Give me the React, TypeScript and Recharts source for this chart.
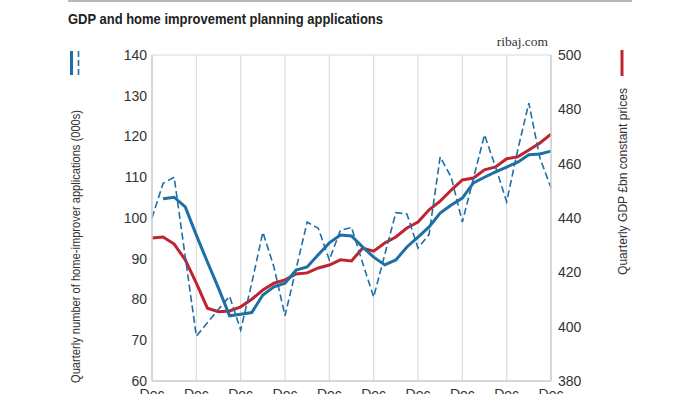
import React from 'react';
import { ComposedChart, Line, XAxis, YAxis, CartesianGrid } from 'recharts';

// quarter index, Dec of each year every 4 quarters
const quarters = Array.from({ length: 37 }, (_, i) => i);
const yearTicks = [0, 4, 8, 12, 16, 20, 24, 28, 32, 36];

// home-improver applications, quarterly (000s)
const applications = [
  100, 108.5, 110, 90.5, 71, 74.3, 77.6, 80.8, 72.5, 84, 96.5, 88, 76, 87.5, 99, 97.5, 89.7, 97, 97.7, 89,
  80.6, 91, 101.3, 101, 92.6, 96, 115, 110, 99, 109.7, 120.4, 112.5, 104, 116.7, 128.2, 114.7, 107.4,
];

// rolling average of applications (000s)
const applicationsAvg = [
  null, 104.7, 105.1, 102.7, 95.8, 89.2, 82.8, 76.0, 76.4, 76.8, 81.1, 83.1, 84, 87.2, 88, 91, 93.9, 95.8, 95.6, 92.9,
  90.4, 88.5, 89.7, 92.9, 95.3, 97.8, 101.2, 103.2, 104.9, 108.6, 110, 111.3, 112.5, 113.7, 115.5, 115.7, 116.4,
];

// quarterly GDP, £bn constant prices
const gdp = [
  432.6, 433, 430.4, 424.6, 416, 406.8, 405.5, 405.8, 407.3, 410.1, 413.5, 416, 417.2, 419.4, 419.8, 421.6, 422.7,
  424.6, 424.2, 428.9, 427.8, 430.8, 433, 436.3, 438.5, 443, 446.2, 450.3, 454, 454.7, 457.7, 458.8, 461.8, 462.5,
  465, 467.6, 470.9,
];

const leftTicks = [60, 70, 80, 90, 100, 110, 120, 130, 140];
const rightTicks = [380, 400, 420, 440, 460, 480, 500];

const BLUE = '#1f6fa5';
const RED = '#bf2430';
const FONT = '"Liberation Sans", Arial, sans-serif';

const rows = quarters.map((q, i) => ({
  q,
  apps: applications[i],
  avg: applicationsAvg[i],
  gdp: gdp[i],
}));

const tickStyle = { fill: '#333', fontSize: 14, fontFamily: FONT };

export default function App() {
  return (
    <div style={{ position: 'absolute', left: 0, top: 0, width: 700, height: 394, overflow: 'hidden', background: '#fff' }}>
      <div style={{ position: 'absolute', left: 68, top: 0, width: 564, height: 2, background: '#b8b8b8' }} />

      <div style={{ position: 'absolute', left: 0, top: 0 }}>
        <ComposedChart width={700} height={420} data={rows} margin={{ top: 55, right: 89, bottom: 9, left: 92 }}>
          <CartesianGrid stroke="#dcdcdc" strokeWidth={1.2} />
          <XAxis
            dataKey="q"
            type="number"
            domain={[0, 36]}
            ticks={yearTicks}
            tickFormatter={() => 'Dec'}
            tickLine={false}
            axisLine={{ stroke: '#d0d0d0', strokeWidth: 1.5 }}
            tick={tickStyle}
            tickMargin={2}
            height={30}
          />
          <YAxis
            yAxisId="left"
            domain={[60, 140]}
            ticks={leftTicks}
            tickLine={false}
            axisLine={{ stroke: '#d0d0d0', strokeWidth: 1.5 }}
            tick={tickStyle}
            tickMargin={-1}
            width={60}
          />
          <YAxis
            yAxisId="right"
            orientation="right"
            domain={[380, 500]}
            ticks={rightTicks}
            tickLine={false}
            axisLine={{ stroke: '#d0d0d0', strokeWidth: 1.5 }}
            tick={tickStyle}
            tickMargin={1}
            width={60}
          />
          <Line
            yAxisId="right"
            dataKey="gdp"
            stroke={RED}
            strokeWidth={3}
            dot={false}
            type="linear"
            isAnimationActive={false}
          />
          <Line
            yAxisId="left"
            dataKey="apps"
            stroke={BLUE}
            strokeWidth={1.6}
            strokeDasharray="7 3.5"
            dot={false}
            type="linear"
            isAnimationActive={false}
          />
          <Line
            yAxisId="left"
            dataKey="avg"
            stroke={BLUE}
            strokeWidth={3}
            dot={false}
            type="linear"
            connectNulls={false}
            isAnimationActive={false}
          />
        </ComposedChart>
      </div>

      <svg style={{ position: 'absolute', left: 0, top: 0 }} width={700} height={394}>
        <text x={68} y={24} fontFamily={FONT} fontWeight={700} fontSize={14.5} fill="#222" textLength={315} lengthAdjust="spacingAndGlyphs">
          GDP and home improvement planning applications
        </text>
        <text x={548} y={46} textAnchor="end" fontFamily='"Liberation Serif", serif' fontSize={13.5} fill="#333">
          ribaj.com
        </text>
        <line x1={71.5} y1={51} x2={71.5} y2={75} stroke={BLUE} strokeWidth={3} />
        <line x1={78.5} y1={51} x2={78.5} y2={75} stroke={BLUE} strokeWidth={1.6} strokeDasharray="6 3" />
        <line x1={622} y1={50} x2={622} y2={76} stroke={RED} strokeWidth={3} />
        <text
          transform="translate(80 246.5) rotate(-90)"
          textAnchor="middle"
          fontFamily={FONT}
          fontSize={12.5}
          fill="#333"
          textLength={273}
          lengthAdjust="spacingAndGlyphs"
        >
          Quarterly number of home-improver applications (000s)
        </text>
        <text
          transform="translate(627 181.5) rotate(-90)"
          textAnchor="middle"
          fontFamily={FONT}
          fontSize={12.5}
          fill="#333"
          textLength={187}
          lengthAdjust="spacingAndGlyphs"
        >
          Quarterly GDP £bn constant prices
        </text>
      </svg>
    </div>
  );
}
